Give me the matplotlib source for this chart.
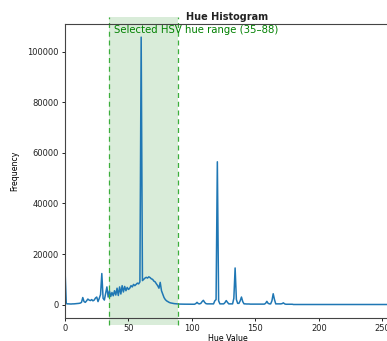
import numpy as np
import matplotlib.pyplot as plt

# hue histogram counts, bins 0..255
hue_counts = [
    14000, 400, 300, 300, 250, 250, 300, 300, 350, 400,
    450, 500, 600, 900, 2800, 1200, 900, 1500, 2200, 1800,
    1600, 2000, 1500, 1800, 2600, 3000, 1200, 2500, 4000, 12300,
    2500, 1800, 4500, 7000, 3000, 5500, 3200, 4800, 3500, 5500,
    3800, 6500, 3600, 7000, 4200, 7500, 5000, 7200, 5500, 6800,
    6000, 6500, 7500, 7000, 8000, 7500, 8000, 8500, 8200, 9000,
    105800, 9500, 10000, 10500, 10800, 10500, 11000, 10700, 10200, 10000,
    9300, 9000, 8200, 7500, 6500, 8800, 5500, 4200, 2800, 2000,
    1500, 1200, 900, 700, 600, 500, 400, 350, 300, 250,
    220, 200, 200, 190, 180, 180, 170, 170, 160, 160,
    150, 150, 150, 400, 900, 400, 300, 500, 1200, 1700,
    900, 400, 300, 300, 300, 300, 300, 300, 1500, 2000,
    56500, 1500, 300, 300, 300, 300, 800, 1600, 900, 300,
    300, 300, 300, 2500, 14500, 2000, 500, 500, 1500, 3000,
    1200, 300, 300, 250, 250, 250, 200, 200, 200, 200,
    200, 200, 200, 200, 200, 200, 200, 200, 500, 1300,
    500, 300, 300, 1500, 4300, 2000, 300, 300, 300, 300,
    300, 400, 700, 300, 150, 150, 150, 150, 150, 150,
    50, 50, 50, 50, 50, 50, 50, 50, 50, 50,
    50, 50, 50, 50, 50, 50, 50, 50, 50, 50,
    50, 50, 50, 50, 50, 50, 50, 50, 50, 50,
    50, 50, 50, 50, 50, 50, 50, 50, 50, 50,
    50, 50, 50, 50, 50, 50, 50, 50, 50, 50,
    50, 50, 50, 50, 50, 50, 50, 50, 50, 50,
    50, 50, 50, 50, 50, 50, 50, 50, 50, 50,
    50, 50, 50, 50, 50, 50,
]
hue_lo, hue_hi = 35, 88
x_ticks = [0, 50, 100, 150, 200, 250]
y_ticks = [0, 20000, 40000, 60000, 80000, 100000]

fs = 6.0
fig = plt.figure(figsize=(3.87, 3.41), dpi=100)
ax = fig.add_axes([65 / 387, 1 - 318 / 341, 325 / 387, 294 / 341])

ax.plot(np.arange(len(hue_counts)), hue_counts, color='#1f77b4', lw=1.1)
ax.axvspan(hue_lo, hue_hi + 1, ymin=-0.025, ymax=1.025, color='green',
           alpha=0.15, lw=0, clip_on=False)
for xv in (hue_lo, hue_hi + 1):
    ax.axvline(xv, ymin=-0.025, ymax=1.025, color='#3cae3c', ls=(0, (4, 3)),
               lw=0.9, clip_on=False)

ax.text(hue_lo + 3.5, 0.997, 'Selected HSV hue range (35\u201388)', color='green',
        fontsize=7.3, ha='left', va='top',
        transform=ax.get_xaxis_transform())

ax.set_xlim(0, 256)
ax.set_ylim(-5290, 111000)
ax.set_xticks(x_ticks)
ax.set_yticks(y_ticks)
ax.tick_params(labelsize=fs, length=2.5, width=0.7, pad=2, colors='#222222')
for s in ax.spines.values():
    s.set_color('#444444')
    s.set_linewidth(0.8)

ax.set_title('Hue Histogram', fontsize=7.0, fontweight='bold', pad=3,
             color='#222222')
ax.set_xlabel('Hue Value', fontsize=fs - 0.3, labelpad=0.5)
ax.set_ylabel('Frequency', fontsize=fs - 0.3, labelpad=6)

fig.savefig('out.png', dpi=100)
